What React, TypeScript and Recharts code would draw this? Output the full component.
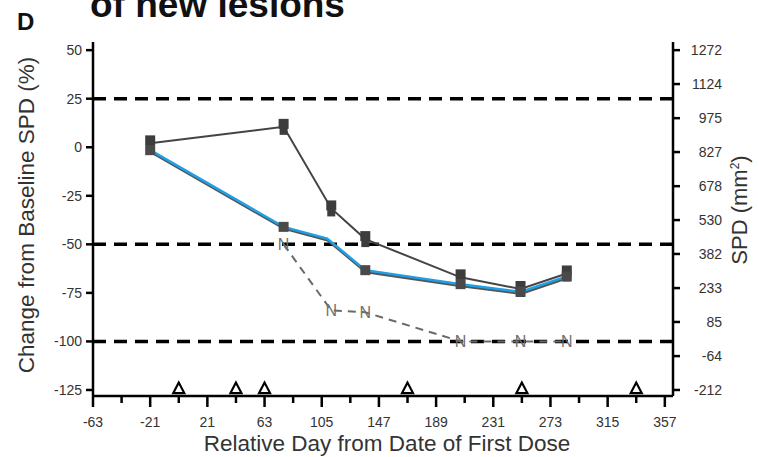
import React from "react";
import {
  ComposedChart,
  Line,
  XAxis,
  YAxis,
  ReferenceLine,
} from "recharts";

// upper (dark) series, % change from baseline SPD
const upperDays = [-21, 77, 112, 137, 207, 251, 285];
const upperPct = [2, 10.5, -31.5, -47.3, -67, -73, -65];

// lower (blue) series
const lowerDays = [-21, 77, 109, 137, 207, 251, 285];
const lowerPct = [-1.5, -41, -47, -63.3, -70.5, -74.5, -66.5];
const lowerMarked = [true, true, false, true, true, true, true];

// new lesions (dashed, "N")
const newDays = [77, 112, 137, 207, 251, 285];
const newPct = [-50, -84, -85, -100, -100, -100];

// dosing days (triangles on the axis)
const doseDays = [0, 42, 63, 168, 252, 336];
const doseLevel = -124;

const thresholds = [25, -50, -100];
const leftTicks = [50, 25, 0, -25, -50, -75, -100, -125];
const rightTicks = [1272, 1124, 975, 827, 678, 530, 382, 233, 85, -64, -212];
const xTicks = [
  -63, -42, -21, 0, 21, 42, 63, 84, 105, 126, 147, 168, 189, 210, 231, 252,
  273, 294, 315, 336, 357,
];

const BASE_SPD = 848;
const PCT_DOMAIN: [number, number] = [-128.1, 54.2];
const SPD_DOMAIN: [number, number] = [
  BASE_SPD * (1 + PCT_DOMAIN[0] / 100),
  BASE_SPD * (1 + PCT_DOMAIN[1] / 100),
];

const upper = upperDays.map((day, i) => ({ day, v: upperPct[i] }));
const lower = lowerDays.map((day, i) => ({
  day,
  v: lowerPct[i],
  marked: lowerMarked[i],
}));
const newLesions = newDays.map((day, i) => ({ day, v: newPct[i] }));
const doses = doseDays.map((day) => ({ day, v: doseLevel }));

const FONT = "'Liberation Sans', Arial, Helvetica, sans-serif";

const XTick = (props: any) => {
  const { x, y, payload } = props;
  const v = payload.value;
  const major = (v + 63) % 42 === 0;
  return (
    <g>
      <line x1={x} x2={x} y1={y} y2={y + (major ? 11 : 7)} stroke="#000" strokeWidth={2.5} />
      {major && (
        <text x={x} y={y + 31} textAnchor="middle" fontSize={14} fill="#333">
          {v}
        </text>
      )}
    </g>
  );
};

const RightTick = (props: any) => {
  const { x, y, payload } = props;
  return (
    <text x={x + 42} y={y} dy={5} textAnchor="end" fontSize={14} fill="#333">
      {payload.value}
    </text>
  );
};

const upperDot = (p: any) => (
  <g key={`u${p.index}`}>
    <rect x={p.cx - 5} y={p.cy - 8} width={10} height={10} fill="#3d3d3d" />
    <rect x={p.cx - 4} y={p.cy} width={8} height={8} fill="#3d3d3d" />
  </g>
);

const lowerDot = (p: any) =>
  p.payload.marked ? (
    <rect key={`l${p.index}`} x={p.cx - 5} y={p.cy - 5} width={10} height={10} fill="#4a4a4a" />
  ) : (
    <g key={`l${p.index}`} />
  );

const nDot = (p: any) => (
  <text
    key={`n${p.index}`}
    x={p.cx}
    y={p.cy}
    dy={6}
    textAnchor="middle"
    fontSize={16}
    fill="#6f6f6f"
  >
    N
  </text>
);

const doseDot = (p: any) => (
  <polygon
    key={`d${p.index}`}
    points={`${p.cx},${p.cy - 5.5} ${p.cx - 5.5},${p.cy + 5} ${p.cx + 5.5},${p.cy + 5}`}
    fill="#fff"
    stroke="#000"
    strokeWidth={2.2}
  />
);

export default function App() {
  return (
    <div
      style={{
        position: "absolute",
        left: 0,
        top: 0,
        width: 759,
        height: 457,
        background: "#fff",
        fontFamily: FONT,
      }}
    >
      <style>{`.lower-shadow .recharts-line-curve{transform:translate(0.5px,1.8px)}`}</style>
      <ComposedChart
        width={759}
        height={457}
        margin={{ top: 42, right: 0, bottom: 0, left: 0 }}
      >
        <XAxis
          dataKey="day"
          type="number"
          domain={[-63, 363]}
          ticks={xTicks}
          interval={0}
          height={61}
          tickSize={0}
          tickMargin={0}
          tickLine={false}
          tick={<XTick />}
          axisLine={{ stroke: "#000", strokeWidth: 2.5 }}
          allowDataOverflow
        />
        <XAxis
          xAxisId="top"
          orientation="top"
          type="number"
          domain={[-63, 363]}
          height={0}
          tick={false}
          tickLine={false}
          axisLine={{ stroke: "#000", strokeWidth: 2.5 }}
        />
        <YAxis
          yAxisId="pct"
          type="number"
          domain={PCT_DOMAIN}
          ticks={leftTicks}
          interval={0}
          width={93}
          tickSize={7}
          tickMargin={4}
          tick={{ fontSize: 14, fill: "#333" }}
          tickLine={{ stroke: "#000", strokeWidth: 2.5 }}
          axisLine={{ stroke: "#000", strokeWidth: 2.5 }}
          allowDataOverflow
        />
        <YAxis
          yAxisId="spd"
          orientation="right"
          type="number"
          domain={SPD_DOMAIN}
          ticks={rightTicks}
          interval={0}
          width={86}
          tickSize={7}
          tickMargin={0}
          tick={<RightTick />}
          tickLine={{ stroke: "#000", strokeWidth: 2.5 }}
          axisLine={{ stroke: "#000", strokeWidth: 2.5 }}
          allowDataOverflow
        />
        {thresholds.map((t) => (
          <ReferenceLine
            key={t}
            y={t}
            yAxisId="pct"
            stroke="#000"
            strokeWidth={3.5}
            strokeDasharray="13 8"
          />
        ))}
        <Line
          data={newLesions}
          dataKey="v"
          yAxisId="pct"
          stroke="#6a6a6a"
          strokeWidth={2}
          strokeDasharray="8 6"
          dot={nDot}
          isAnimationActive={false}
        />
        <Line
          data={upper}
          dataKey="v"
          yAxisId="pct"
          stroke="#444"
          strokeWidth={2}
          dot={upperDot}
          isAnimationActive={false}
        />
        <Line
          className="lower-shadow"
          data={lower}
          dataKey="v"
          yAxisId="pct"
          stroke="#555"
          strokeWidth={2.5}
          dot={lowerDot}
          isAnimationActive={false}
        />
        <Line
          data={lower}
          dataKey="v"
          yAxisId="pct"
          stroke="#1e9fe6"
          strokeWidth={2.5}
          dot={false}
          isAnimationActive={false}
        />
        <Line
          data={doses}
          dataKey="v"
          yAxisId="pct"
          stroke="none"
          dot={doseDot}
          isAnimationActive={false}
        />
      </ComposedChart>
      <svg
        width={759}
        height={457}
        style={{ position: "absolute", left: 0, top: 0, pointerEvents: "none" }}
      >
        <text x={17} y={30} fontSize={24} fontWeight="bold" fill="#111">
          D
        </text>
        <text x={90} y={17} fontSize={37} fontWeight="bold" fill="#111">
          of new lesions
        </text>
        <text
          transform="translate(34,215) rotate(-90)"
          textAnchor="middle"
          fontSize={22.5}
          fill="#333"
        >
          Change from Baseline SPD (%)
        </text>
        <text x={387} y={451} textAnchor="middle" fontSize={22.5} fill="#333">
          Relative Day from Date of First Dose
        </text>
        <text
          transform="translate(747,210) rotate(-90)"
          textAnchor="middle"
          fontSize={22}
          fill="#333"
        >
          SPD (mm
          <tspan fontSize={12} dy={-8}>
            2
          </tspan>
          <tspan dy={8}>)</tspan>
        </text>
      </svg>
    </div>
  );
}
